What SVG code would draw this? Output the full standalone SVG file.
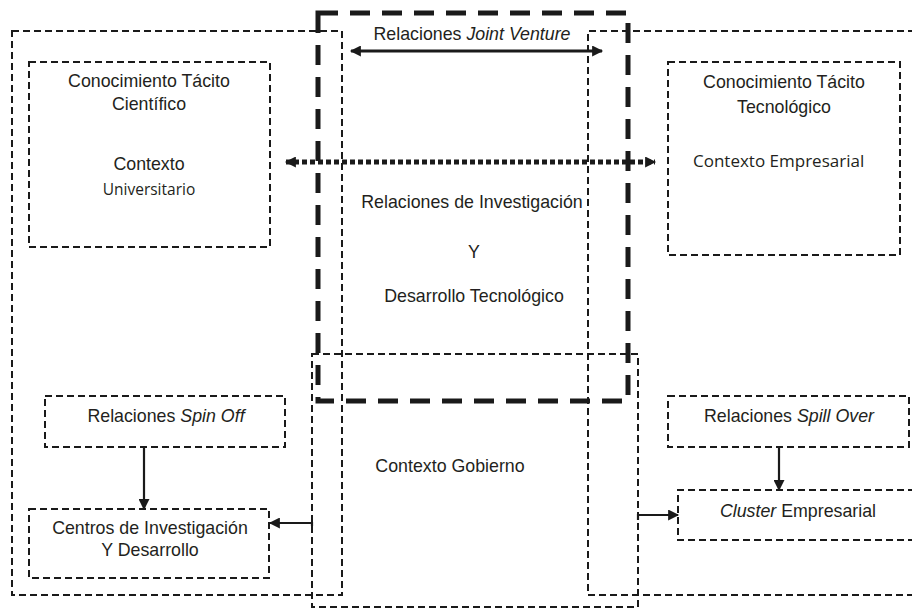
<svg xmlns="http://www.w3.org/2000/svg" width="912" height="609" viewBox="0 0 912 609">
<style>
.box{fill:none;stroke:#1a1a1a;stroke-width:2;stroke-dasharray:7 4}
.thick{fill:none;stroke:#1a1a1a;stroke-width:5;stroke-dasharray:20 12}
.t{font-family:"Liberation Sans",Arial,sans-serif;font-size:17.8px;fill:#231f20;text-anchor:middle}
.c{font-family:"Open Sans","Noto Sans",sans-serif;font-size:15.5px;fill:#231f20}
.arr{fill:none;stroke:#1a1a1a;stroke-width:2.2}
.dot{fill:none;stroke:#1a1a1a;stroke-width:5;stroke-dasharray:5 3}
</style>
<defs>
<marker id="ahL" viewBox="0 0 10 10" refX="9" refY="5" markerWidth="13" markerHeight="11" orient="auto-start-reverse" markerUnits="userSpaceOnUse">
<path d="M0,0 L10,5 L0,10 z" fill="#1a1a1a"/>
</marker>
<marker id="ahM" viewBox="0 0 10 10" refX="9" refY="5" markerWidth="12" markerHeight="11" orient="auto-start-reverse" markerUnits="userSpaceOnUse">
<path d="M0,0 L10,5 L0,10 z" fill="#1a1a1a"/>
</marker>
</defs>
<rect width="912" height="609" fill="#fff"/>

<g id="contexto-universitario">
<rect class="box" x="12" y="31" width="330" height="564"/>
</g>
<g id="contexto-empresarial-outer">
<path class="box" d="M915,31 H588 V595 H915"/>
</g>
<g id="relaciones-id">
<rect class="thick" x="318" y="13" width="310" height="388"/>
<text class="t" x="472" y="208">Relaciones de Investigación</text>
<text class="t" x="474" y="258">Y</text>
<text class="t" x="474" y="302">Desarrollo Tecnológico</text>
</g>
<g id="contexto-gobierno">
<rect class="box" x="312" y="354" width="326" height="253"/>
<text class="t" x="450" y="472">Contexto Gobierno</text>
</g>
<g id="tacito-cientifico">
<rect class="box" x="29" y="62" width="241" height="185"/>
<text class="t" x="149" y="87">Conocimiento Tácito</text>
<text class="t" x="149" y="110">Científico</text>
<text class="t" x="149" y="170">Contexto</text>
<text class="c" x="149" y="195" text-anchor="middle">Universitario</text>
</g>
<g id="tacito-tecnologico">
<rect class="box" x="668" y="62" width="232" height="193"/>
<text class="t" x="784" y="88">Conocimiento Tácito</text>
<text class="t" x="784" y="113">Tecnológico</text>
<text class="c" x="693" y="167" style="font-size:17px">Contexto Empresarial</text>
</g>
<g id="joint-venture">
<text class="t" x="472" y="40">Relaciones <tspan font-style="italic">Joint Venture</tspan></text>
</g>
<g id="spin-off">
<rect class="box" x="45" y="396" width="240" height="51"/>
<text class="t" x="166" y="422">Relaciones <tspan font-style="italic">Spin Off</tspan></text>
</g>
<g id="centros">
<rect class="box" x="29" y="509" width="240" height="69"/>
<text class="t" x="150" y="534">Centros de Investigación</text>
<text class="t" x="150" y="556">Y Desarrollo</text>
</g>
<g id="spill-over">
<rect class="box" x="668" y="396" width="241" height="51"/>
<text class="t" x="789" y="422">Relaciones <tspan font-style="italic">Spill Over</tspan></text>
</g>
<g id="cluster">
<path class="box" d="M915,490 H678 V540 H915"/>
<text class="t" x="798" y="517"><tspan font-style="italic">Cluster</tspan> Empresarial</text>
</g>

<g id="connectors">
<line class="arr" x1="351" y1="51" x2="602" y2="51" marker-start="url(#ahM)" marker-end="url(#ahM)" style="stroke-width:2.8"/>
<line class="dot" x1="286" y1="162" x2="655" y2="162" marker-start="url(#ahL)" marker-end="url(#ahL)"/>
<line class="arr" x1="144" y1="447" x2="144" y2="509" marker-end="url(#ahM)"/>
<path class="arr" d="M312,526 V523 H270" marker-end="url(#ahM)"/>
<line class="arr" x1="779" y1="447" x2="779" y2="490" marker-end="url(#ahM)"/>
<path class="arr" d="M638,520 V515 H678" marker-end="url(#ahM)"/>
</g>
</svg>
